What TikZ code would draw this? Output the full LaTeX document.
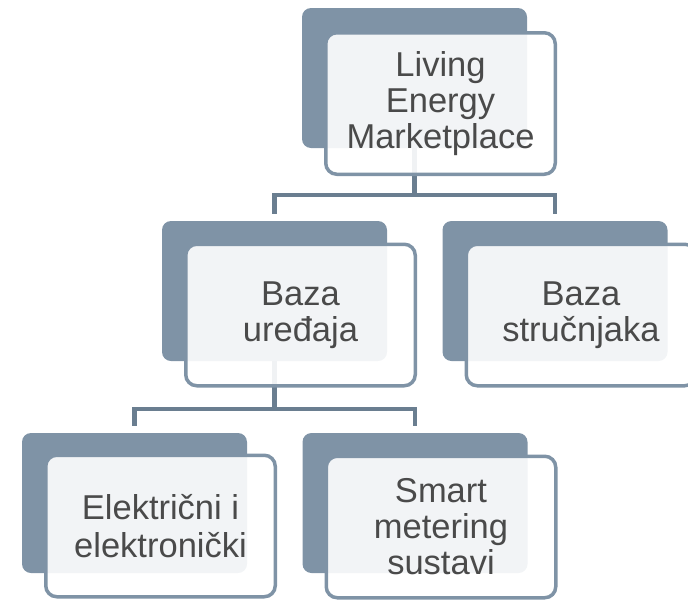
\documentclass[tikz,border=0pt]{standalone}
\usepackage{fontspec}
\setmainfont{Liberation Sans}
\definecolor{slate}{HTML}{7F93A6}
\definecolor{linkc}{HTML}{6A7E90}
\definecolor{txt}{HTML}{4A4A4A}
\tikzset{
  backbox/.style={fill=slate, draw=none, rounded corners=9pt,
    minimum width=225pt, minimum height=140pt, inner sep=0pt},
  frontbox/.style={fill=white, fill opacity=0.9, text opacity=1,
    draw=slate, line width=3.5pt, rounded corners=11pt,
    minimum width=229.5pt, minimum height=141.5pt, inner sep=0pt,
    align=center, text=txt, font=\fontsize{34.5}{36}\selectfont},
  link/.style={draw=linkc, line width=4.5pt},
}
\begin{document}
\begin{tikzpicture}[x=1pt,y=-1pt]
  \useasboundingbox (0,0) rectangle (688,600);
  \clip (0,0) rectangle (688,600);

  % back plates
  \node[backbox] (b0) at (414.5,78) {};
  \node[backbox] (b1) at (274.5,291) {};
  \node[backbox] (b2) at (555,291) {};
  \node[backbox] (b3) at (134.5,503) {};
  \node[backbox] (b4) at (415,503) {};

  % connectors
  \coordinate (j0) at (b0.south |- 0,195);
  \coordinate (j1) at (b1.south |- 0,409);
  \draw[link] (b0.south) -- (j0);
  \draw[link] ([yshift=7pt]b1.north) |- (j0) -| ([yshift=7pt]b2.north);
  \draw[link] (b1.south) -- (j1);
  \draw[link] ([yshift=7pt]b3.north) |- (j1) -| ([yshift=7pt]b4.north);

  % front boxes with labels
  \node[frontbox] (f0) at (440.5,103.5) {Living\\Energy\\Marketplace};
  \node[frontbox] (f1) at (300.5,315) {Baza\\uređaja};
  \node[frontbox] (f2) at (581,315) {Baza\\stručnjaka};
  \node[frontbox, font=\fontsize{34.5}{38}\selectfont] (f3) at (160.5,526)
    {Električni i\\elektronički};
  \node[frontbox] (f4) at (441,527) {Smart\\metering\\sustavi};
\end{tikzpicture}
\end{document}
